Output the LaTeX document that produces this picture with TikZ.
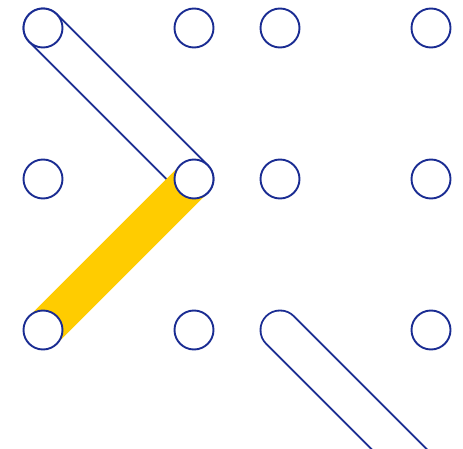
\documentclass[tikz,border=0pt]{standalone}
\usetikzlibrary{backgrounds}
\definecolor{dotblue}{HTML}{1A2C92}
\definecolor{bandyellow}{HTML}{FFCC00}
\begin{document}
\begin{tikzpicture}[x=1pt,y=-1pt,
  dot/.style={circle,draw=dotblue,fill=white,line width=1.9pt,minimum size=39pt,inner sep=0pt},
  pill/.style={draw=dotblue,line width=1.9pt,double=white,double distance=37.1pt,line cap=round},
  band/.style={draw=bandyellow,line width=39pt,line cap=butt}]
\useasboundingbox (0,0) rectangle (463,449);
% grid of dots
\node[dot] (a1) at (43,28) {};
\node[dot] (b1) at (194,28) {};
\node[dot] (c1) at (280,28) {};
\node[dot] (d1) at (431,28) {};
\node[dot] (a2) at (43,179) {};
\node[dot] (b2) at (194,179) {};
\node[dot] (c2) at (280,179) {};
\node[dot] (d2) at (431,179) {};
\node[dot] (a3) at (43,330) {};
\node[dot] (b3) at (194,330) {};
\coordinate (c3) at (280,330);
\node[dot] (d3) at (431,330) {};
\coordinate (d4) at (431,481);
\begin{pgfonlayer}{background}
\draw[pill] (a1.center) -- (b2.center);
\draw[band] (a3.center) -- (b2.center);
\draw[pill] (c3) -- (d4);
\end{pgfonlayer}
\end{tikzpicture}
\end{document}
